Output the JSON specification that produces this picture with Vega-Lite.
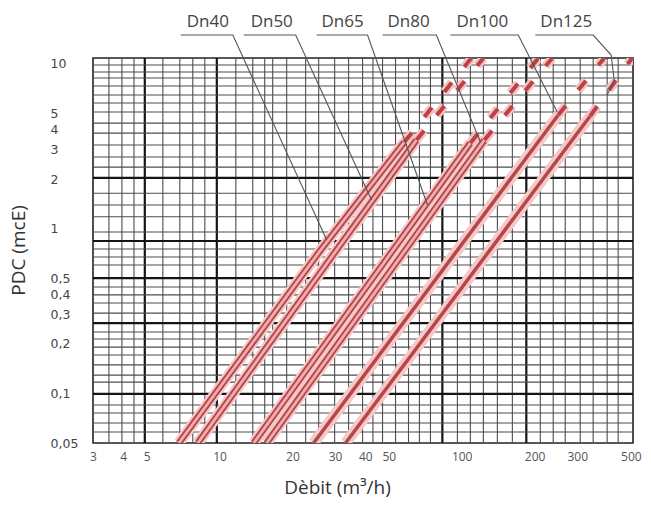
{
  "$schema": "https://vega.github.io/schema/vega-lite/v6.json",
  "width": 540,
  "height": 385,
  "autosize": {"type": "none"},
  "padding": {"left": 93, "top": 58, "right": 18, "bottom": 64},
  "background": "white",
  "config": {"view": {"stroke": "#222222", "strokeWidth": 1.6}, "font": "Open Sans"},
  "datasets": {
    "vgrid": [
      {"q": 3.49, "kind": "minor"}, {"q": 3.95, "kind": "minor"}, {"q": 4.43, "kind": "minor"}, {"q": 4.91, "kind": "major"},
      {"q": 5.83, "kind": "minor"}, {"q": 6.85, "kind": "minor"}, {"q": 7.75, "kind": "minor"}, {"q": 8.69, "kind": "minor"},
      {"q": 9.74, "kind": "major"}, {"q": 11.67, "kind": "minor"}, {"q": 13.71, "kind": "minor"}, {"q": 15.36, "kind": "minor"},
      {"q": 16.57, "kind": "minor"}, {"q": 18.93, "kind": "minor"}, {"q": 22.67, "kind": "minor"}, {"q": 25.66, "kind": "minor"},
      {"q": 29.87, "kind": "minor"}, {"q": 34.11, "kind": "minor"}, {"q": 38.96, "kind": "minor"}, {"q": 43.0, "kind": "minor"},
      {"q": 47.1, "kind": "minor"}, {"q": 53.3, "kind": "minor"}, {"q": 60.3, "kind": "minor"}, {"q": 66.9, "kind": "minor"},
      {"q": 74.3, "kind": "minor"}, {"q": 83.2, "kind": "major"}, {"q": 96.0, "kind": "minor"}, {"q": 108.6, "kind": "minor"},
      {"q": 122.9, "kind": "minor"}, {"q": 140.4, "kind": "minor"}, {"q": 161.9, "kind": "minor"}, {"q": 184.9, "kind": "major"},
      {"q": 211.2, "kind": "minor"}, {"q": 238.8, "kind": "minor"}, {"q": 267.7, "kind": "minor"}, {"q": 308.7, "kind": "minor"},
      {"q": 349.2, "kind": "minor"}, {"q": 398.9, "kind": "minor"}, {"q": 442.9, "kind": "minor"}
    ],
    "hgrid": [
      {"h": 9.83, "kind": "minor"}, {"h": 8.92, "kind": "minor"}, {"h": 8.2, "kind": "minor"}, {"h": 7.33, "kind": "minor"},
      {"h": 6.47, "kind": "minor"}, {"h": 5.78, "kind": "minor"}, {"h": 5.1, "kind": "minor"}, {"h": 4.37, "kind": "minor"},
      {"h": 3.8, "kind": "minor"}, {"h": 3.22, "kind": "minor"}, {"h": 2.72, "kind": "minor"}, {"h": 2.36, "kind": "minor"},
      {"h": 2.03, "kind": "major"}, {"h": 1.64, "kind": "minor"}, {"h": 1.39, "kind": "minor"}, {"h": 1.18, "kind": "minor"},
      {"h": 0.954, "kind": "minor"}, {"h": 0.841, "kind": "major"}, {"h": 0.752, "kind": "minor"}, {"h": 0.673, "kind": "minor"},
      {"h": 0.601, "kind": "minor"}, {"h": 0.501, "kind": "major"}, {"h": 0.442, "kind": "minor"}, {"h": 0.396, "kind": "minor"},
      {"h": 0.354, "kind": "minor"}, {"h": 0.307, "kind": "minor"}, {"h": 0.267, "kind": "major"}, {"h": 0.236, "kind": "minor"},
      {"h": 0.214, "kind": "minor"}, {"h": 0.191, "kind": "minor"}, {"h": 0.171, "kind": "minor"}, {"h": 0.149, "kind": "minor"},
      {"h": 0.129, "kind": "minor"}, {"h": 0.117, "kind": "minor"}, {"h": 0.0992, "kind": "major"}, {"h": 0.085, "kind": "minor"},
      {"h": 0.076, "kind": "minor"}, {"h": 0.0661, "kind": "minor"}, {"h": 0.0583, "kind": "minor"}
    ],
    "curves": [
      {"dn": "Dn40", "part": "solid", "q": 6.79, "h": 0.05},
      {"dn": "Dn40", "part": "solid", "q": 26.15, "h": 0.742},
      {"dn": "Dn40", "part": "solid", "q": 58.0, "h": 3.354},
      {"dn": "Dn40", "part": "dashed", "q": 58.0, "h": 3.354},
      {"dn": "Dn40", "part": "dashed", "q": 109.6, "h": 10.84},
      {"dn": "Dn50", "part": "solid", "q": 8.13, "h": 0.05},
      {"dn": "Dn50", "part": "solid", "q": 30.43, "h": 0.742},
      {"dn": "Dn50", "part": "solid", "q": 65.05, "h": 3.449},
      {"dn": "Dn50", "part": "dashed", "q": 65.05, "h": 3.449},
      {"dn": "Dn50", "part": "dashed", "q": 122.9, "h": 10.84},
      {"dn": "Dn65", "part": "solid", "q": 13.84, "h": 0.05},
      {"dn": "Dn65", "part": "solid", "q": 108.6, "h": 3.307},
      {"dn": "Dn65", "part": "dashed", "q": 108.6, "h": 3.307},
      {"dn": "Dn65", "part": "dashed", "q": 207.2, "h": 10.84},
      {"dn": "Dn80", "part": "solid", "q": 15.65, "h": 0.05},
      {"dn": "Dn80", "part": "solid", "q": 124.1, "h": 3.449},
      {"dn": "Dn80", "part": "dashed", "q": 124.1, "h": 3.449},
      {"dn": "Dn80", "part": "dashed", "q": 236.6, "h": 10.84},
      {"dn": "Dn100", "part": "solid", "q": 24.46, "h": 0.05},
      {"dn": "Dn100", "part": "solid", "q": 250.5, "h": 4.891},
      {"dn": "Dn100", "part": "dashed", "q": 250.5, "h": 4.891},
      {"dn": "Dn100", "part": "dashed", "q": 387.7, "h": 10.84},
      {"dn": "Dn125", "part": "solid", "q": 33.15, "h": 0.05},
      {"dn": "Dn125", "part": "solid", "q": 339.4, "h": 4.824},
      {"dn": "Dn125", "part": "dashed", "q": 339.4, "h": 4.824},
      {"dn": "Dn125", "part": "dashed", "q": 505.7, "h": 10.84}
    ],
    "leaders": [
      {"dn": "Dn40", "i": 0, "q": 6.92, "h": 14.96}, {"dn": "Dn40", "i": 1, "q": 11.34, "h": 14.96}, {"dn": "Dn40", "i": 2, "q": 27.7, "h": 0.853},
      {"dn": "Dn50", "i": 0, "q": 12.58, "h": 14.96}, {"dn": "Dn50", "i": 1, "q": 20.62, "h": 14.96}, {"dn": "Dn50", "i": 2, "q": 42.42, "h": 1.491},
      {"dn": "Dn65", "i": 0, "q": 25.17, "h": 14.96}, {"dn": "Dn65", "i": 1, "q": 40.84, "h": 14.96}, {"dn": "Dn65", "i": 2, "q": 72.2, "h": 1.39},
      {"dn": "Dn80", "i": 0, "q": 47.1, "h": 14.96}, {"dn": "Dn80", "i": 1, "q": 78.6, "h": 14.96}, {"dn": "Dn80", "i": 2, "q": 119.5, "h": 3.354},
      {"dn": "Dn100", "i": 0, "q": 89.8, "h": 14.96}, {"dn": "Dn100", "i": 1, "q": 171.3, "h": 14.96}, {"dn": "Dn100", "i": 2, "q": 248.1, "h": 5.099},
      {"dn": "Dn125", "i": 0, "q": 201.4, "h": 14.96}, {"dn": "Dn125", "i": 1, "q": 349.2, "h": 14.96}, {"dn": "Dn125", "i": 2, "q": 414.3, "h": 11.31},
      {"dn": "Dn125", "i": 3, "q": 426.3, "h": 7.975}, {"dn": "Dn125", "i": 4, "q": 398.9, "h": 6.468}
    ],
    "labels": [
      {"dn": "Dn40", "q": 8.94, "h": 17.93},
      {"dn": "Dn50", "q": 16.42, "h": 17.93},
      {"dn": "Dn65", "q": 32.21, "h": 17.93},
      {"dn": "Dn80", "q": 60.29, "h": 17.93},
      {"dn": "Dn100", "q": 121.7, "h": 17.93},
      {"dn": "Dn125", "q": 270.3, "h": 17.93}
    ]
  },
  "encoding": {
    "x": {
      "field": "q", "type": "quantitative",
      "scale": {"type": "log", "domain": [3, 510], "nice": false},
      "axis": {
        "title": "Dèbit (m³/h)",
        "values": [3, 4, 5, 10, 20, 30, 40, 50, 100, 200, 300, 500],
        "grid": false, "domain": false, "ticks": false,
        "labelPadding": 8, "labelFont": "Open Sans", "labelFontSize": 12, "labelColor": "#555555",
        "labelFlush": false, "labelOverlap": false,
        "titleFont": "Open Sans", "titleFontSize": 19, "titleFontWeight": "normal", "titleColor": "#333333",
        "titleX": 244, "titleY": 44, "titleAlign": "center", "titleBaseline": "middle"
      }
    }
  },
  "layer": [
    {
      "data": {"name": "vgrid"},
      "transform": [{"filter": "datum.kind == 'minor'"}],
      "mark": {"type": "rule", "color": "#4d4d4d", "strokeWidth": 1.1}
    },
    {
      "data": {"name": "vgrid"},
      "transform": [{"filter": "datum.kind == 'major'"}],
      "mark": {"type": "rule", "color": "#151515", "strokeWidth": 2.2}
    },
    {
      "data": {"name": "hgrid"},
      "transform": [{"filter": "datum.kind == 'minor'"}],
      "mark": {"type": "rule", "color": "#4d4d4d", "strokeWidth": 1.1},
      "encoding": {
        "x": {"value": 0},
        "x2": {"value": 540},
        "y": {
          "field": "h", "type": "quantitative",
          "scale": {"type": "log", "domain": [0.05, 10.85], "nice": false},
          "axis": {
            "title": "PDC (mcE)",
            "values": [0.05, 0.1, 0.2, 0.3, 0.4, 0.5, 1, 2, 3, 4, 5, 10],
            "labelExpr": "replace(toString(datum.value), '.', ',')",
            "grid": false, "domain": false, "ticks": false,
            "labelAlign": "left", "labelPadding": 43, "labelFont": "DejaVu Sans", "labelFontSize": 12.5, "labelColor": "#444444",
            "labelFlush": false, "labelOverlap": false,
            "titleFont": "Open Sans", "titleFontSize": 19, "titleFontWeight": "normal", "titleColor": "#333333",
            "titleX": -75, "titleY": 192, "titleAlign": "center", "titleBaseline": "middle", "titleAngle": -90
          }
        }
      }
    },
    {
      "data": {"name": "hgrid"},
      "transform": [{"filter": "datum.kind == 'major'"}],
      "mark": {"type": "rule", "color": "#151515", "strokeWidth": 2.2},
      "encoding": {
        "x": {"value": 0},
        "x2": {"value": 540},
        "y": {"field": "h", "type": "quantitative", "scale": {"type": "log", "domain": [0.05, 10.85], "nice": false}}
      }
    },
    {
      "data": {"name": "curves"},
      "transform": [{"filter": "datum.part == 'solid'"}],
      "mark": {"type": "line", "color": "#f6c8c8", "strokeWidth": 11, "strokeCap": "butt", "clip": true},
      "encoding": {
        "y": {"field": "h", "type": "quantitative", "scale": {"type": "log", "domain": [0.05, 10.85], "nice": false}},
        "detail": {"field": "dn"}
      }
    },
    {
      "data": {"name": "curves"},
      "transform": [{"filter": "datum.part == 'solid' && indexof(['Dn40','Dn50','Dn65','Dn80'], datum.dn) >= 0"}],
      "mark": {"type": "line", "color": "#b3474a", "strokeWidth": 6.5, "strokeCap": "butt", "clip": true},
      "encoding": {
        "y": {"field": "h", "type": "quantitative", "scale": {"type": "log", "domain": [0.05, 10.85], "nice": false}},
        "detail": {"field": "dn"}
      }
    },
    {
      "data": {"name": "curves"},
      "transform": [{"filter": "datum.part == 'solid' && indexof(['Dn40','Dn50','Dn65','Dn80'], datum.dn) >= 0"}],
      "mark": {"type": "line", "color": "#f0aeb0", "strokeWidth": 2.8, "strokeCap": "butt", "clip": true},
      "encoding": {
        "y": {"field": "h", "type": "quantitative", "scale": {"type": "log", "domain": [0.05, 10.85], "nice": false}},
        "detail": {"field": "dn"}
      }
    },
    {
      "data": {"name": "curves"},
      "transform": [{"filter": "datum.part == 'solid' && indexof(['Dn100','Dn125'], datum.dn) >= 0"}],
      "mark": {"type": "line", "color": "#b3474a", "strokeWidth": 3.5, "strokeCap": "butt", "clip": true},
      "encoding": {
        "y": {"field": "h", "type": "quantitative", "scale": {"type": "log", "domain": [0.05, 10.85], "nice": false}},
        "detail": {"field": "dn"}
      }
    },
    {
      "data": {"name": "curves"},
      "transform": [{"filter": "datum.part == 'dashed'"}],
      "mark": {"type": "line", "color": "#f4c2c2", "strokeWidth": 9, "strokeDash": [12, 20], "strokeCap": "butt", "clip": true},
      "encoding": {
        "y": {"field": "h", "type": "quantitative", "scale": {"type": "log", "domain": [0.05, 10.85], "nice": false}},
        "detail": {"field": "dn"}
      }
    },
    {
      "data": {"name": "curves"},
      "transform": [{"filter": "datum.part == 'dashed'"}],
      "mark": {"type": "line", "color": "#bb4246", "strokeWidth": 4, "strokeDash": [12, 20], "strokeCap": "butt", "clip": true},
      "encoding": {
        "y": {"field": "h", "type": "quantitative", "scale": {"type": "log", "domain": [0.05, 10.85], "nice": false}},
        "detail": {"field": "dn"}
      }
    },
    {
      "data": {"name": "leaders"},
      "mark": {"type": "line", "color": "#555555", "strokeWidth": 1.1},
      "encoding": {
        "y": {"field": "h", "type": "quantitative", "scale": {"type": "log", "domain": [0.05, 10.85], "nice": false}},
        "detail": {"field": "dn"},
        "order": {"field": "i", "type": "quantitative"}
      }
    },
    {
      "data": {"name": "labels"},
      "mark": {"type": "text", "font": "Open Sans", "fontSize": 17, "color": "#444444", "baseline": "middle", "align": "center"},
      "encoding": {
        "y": {"field": "h", "type": "quantitative", "scale": {"type": "log", "domain": [0.05, 10.85], "nice": false}},
        "text": {"field": "dn"}
      }
    }
  ]
}
